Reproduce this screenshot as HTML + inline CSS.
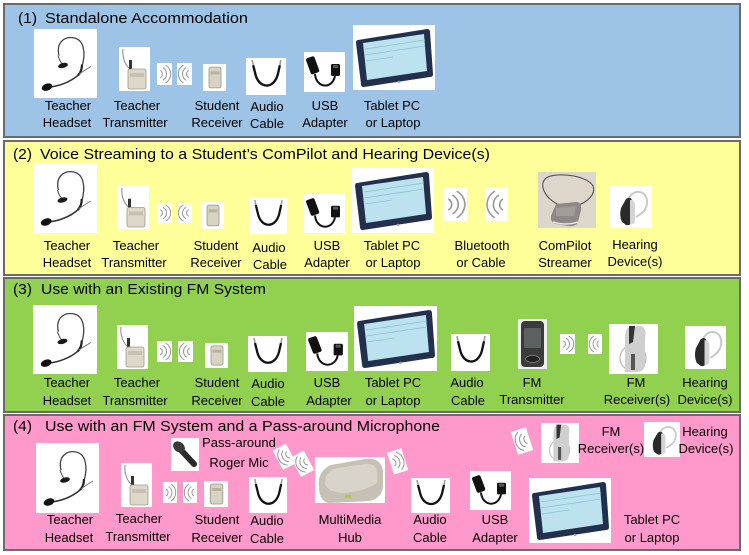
<!DOCTYPE html>
<html><head><meta charset="utf-8"><style>
html,body{margin:0;padding:0;background:#fff;}
svg{display:block;}
text{font-family:"Liberation Sans",sans-serif;fill:#000;}
.l{font-size:13px;text-anchor:middle;}
.t{font-size:15px;}
</style></head><body>
<svg width="749" height="555" viewBox="0 0 749 555" xmlns="http://www.w3.org/2000/svg">
<defs>
<symbol id="headset" viewBox="0 0 63 70" preserveAspectRatio="none">
<rect width="63" height="70" fill="#fff"/>
<path d="M25 27 C22 14 30 7 40 9 C50 11 52 24 48 38" fill="none" stroke="#444" stroke-width="1.3"/>
<path d="M24 27 C26 33 28 36 30 36" stroke="#444" fill="none"/>
<ellipse cx="29" cy="37" rx="5" ry="2.5" fill="#1a1a1a" transform="rotate(-15 29 37)"/>
<path d="M48 36 C48 42 46 45 44 47" stroke="#222" stroke-width="2.2" fill="none"/>
<path d="M45 46 C50 42 54 40 57 38" stroke="#777" fill="none"/>
<path d="M44 47 C36 54 25 58 15 59" stroke="#333" stroke-width="1.5" fill="none"/>
<ellipse cx="13" cy="59" rx="5.5" ry="3.5" fill="#111" transform="rotate(-20 13 59)"/>
</symbol>
<symbol id="trans" viewBox="0 0 31 44" preserveAspectRatio="none">
<rect width="31" height="44" fill="#fff"/>
<path d="M4 2 C3 10 6 18 11 22" stroke="#888" fill="none"/>
<rect x="10" y="13" width="3" height="10" fill="#333"/>
<rect x="9" y="22" width="18" height="20" rx="2" fill="#ddd8c8" stroke="#a09a8c" stroke-width="0.8"/>
<rect x="11" y="26" width="14" height="4" fill="#c6c0b0"/>
</symbol>
<symbol id="recv" viewBox="0 0 23 26" preserveAspectRatio="none">
<rect width="23" height="26" fill="#fff"/>
<rect x="6" y="3" width="12" height="20" rx="2" fill="#d9d3c3" stroke="#9a9486" stroke-width="0.8"/>
<rect x="7.5" y="7" width="9" height="3" fill="#b9b2a0"/>
</symbol>
<symbol id="waveR" viewBox="0 0 14 21" preserveAspectRatio="none">
<rect width="14" height="21" fill="#fff"/>
<g fill="none" stroke="#9a9a9a" stroke-width="1">
<path d="M3 7 A4 4 0 0 1 3 14"/><path d="M5.5 4.5 A7 7 0 0 1 5.5 16.5"/><path d="M8 2 A10 10 0 0 1 8 19"/>
</g>
</symbol>
<symbol id="waveL" viewBox="0 0 14 21" preserveAspectRatio="none">
<rect width="14" height="21" fill="#fff"/>
<g fill="none" stroke="#9a9a9a" stroke-width="1">
<path d="M11 7 A4 4 0 0 0 11 14"/><path d="M8.5 4.5 A7 7 0 0 0 8.5 16.5"/><path d="M6 2 A10 10 0 0 0 6 19"/>
</g>
</symbol>
<symbol id="cable" viewBox="0 0 39 36" preserveAspectRatio="none">
<rect width="39" height="36" fill="#fff"/>
<path d="M7 7 L9 15 C12 30 27 31 31 16 L33 7" fill="none" stroke="#111" stroke-width="2.3"/>
<path d="M6 2 L7 7 M34 2 L33 7" stroke="#999" stroke-width="1.5"/>
</symbol>
<symbol id="usb" viewBox="0 0 41 40" preserveAspectRatio="none">
<rect width="41" height="40" fill="#fff"/>
<rect x="4" y="5" width="9" height="17" rx="2" fill="#111" transform="rotate(-20 8 13)"/>
<path d="M11 22 C12 36 28 38 31 24" stroke="#111" stroke-width="2" fill="none"/>
<rect x="27" y="12" width="9" height="12" rx="1.5" fill="#111"/>
<rect x="29" y="13" width="5" height="3" fill="#555"/>
</symbol>
<symbol id="tablet" viewBox="0 0 82 65" preserveAspectRatio="none">
<rect width="82" height="65" fill="#fff"/>
<path d="M5 15 L74 4 Q77 4 77 7 L80 49 Q80 52 77 52 L11 62 Q8 62 8 59 L3 18 Q3 15 5 15Z" fill="#22304d"/>
<path d="M10 18 L71 9 L74 46 L14 55 Z" fill="#bde2ef"/>
<g stroke="#8cc0d4" stroke-width="0.8"><path d="M12 24 L72 15"/><path d="M12 30 L72 21"/><path d="M13 36 L40 32"/></g>
<circle cx="46" cy="57" r="1.3" fill="#aaa"/>
</symbol>
<symbol id="compilot" viewBox="0 0 58 56" preserveAspectRatio="none">
<rect width="58" height="56" fill="#ddd6cb"/>
<path d="M24 34 C6 28 -1 10 10 5 C22 0 50 4 55 14 C58 22 50 30 38 34" fill="none" stroke="#4a4a4a" stroke-width="1"/>
<path d="M18 32 L38 30 Q44 30 43 38 L40 50 Q38 55 30 54 L18 52 Q12 50 13 44 Z" fill="#8e8886"/>
<path d="M18 36 L38 34 L36 44 L18 44 Z" fill="#a39d9a"/>
<path d="M15 50 Q28 54 40 50" stroke="#e8e4e0" fill="none" stroke-width="1.5"/>
</symbol>
<symbol id="hear" viewBox="0 0 42 42" preserveAspectRatio="none">
<rect width="42" height="42" fill="#fff"/>
<path d="M18 15 C20 4 35 2 37 14 C38 24 31 28 26 31" fill="none" stroke="#c8c8c8" stroke-width="2"/>
<path d="M16 13 Q20 10 22 14 L22 36 Q20 40 16 39 L12 36 Q9 30 11 22 Z" fill="#2a2a2a"/>
<path d="M20 14 Q24 13 25 18 L25 36 Q23 39 20 38 Z" fill="#d4d4d4"/>
</symbol>
<symbol id="fmtx" viewBox="0 0 29 50" preserveAspectRatio="none">
<rect width="29" height="50" fill="#eee"/>
<rect x="3" y="2" width="23" height="46" rx="4" fill="#3b3b3b"/>
<rect x="6" y="9" width="17" height="20" rx="1" fill="#5d6061"/>
<ellipse cx="14.5" cy="40" rx="7" ry="3.5" fill="#222" stroke="#888" stroke-width="0.8"/>
</symbol>
<symbol id="fmrx" viewBox="0 0 49 50" preserveAspectRatio="none">
<rect width="49" height="50" fill="#fff"/>
<circle cx="24" cy="34" r="13" fill="none" stroke="#aaa"/>
<path d="M16 48 L16 14 Q16 4 22 2 L32 2 Q38 4 36 14 L36 42 Q34 48 28 48 Z" fill="#cfcfcf"/>
<path d="M20 2 L26 2 L24 18 L20 20 Z" fill="#333"/>
<path d="M22 30 L26 30 L26 46 L22 46 Z" fill="#555"/>
</symbol>
<symbol id="mic" viewBox="0 0 28 33" preserveAspectRatio="none">
<rect width="28" height="33" fill="#fff"/>
<path d="M10 12 L23 26" stroke="#2a2a2a" stroke-width="6" stroke-linecap="round"/>
<ellipse cx="8" cy="9" rx="6.5" ry="5" fill="#3a3a3a" transform="rotate(40 8 9)"/>
</symbol>
<symbol id="hub" viewBox="0 0 70 46" preserveAspectRatio="none">
<rect width="70" height="46" fill="#fff"/>
<path d="M4 30 Q2 14 16 8 L50 2 Q66 0 68 14 L68 30 Q66 42 54 44 L14 46 Q4 44 4 30Z" fill="#c6c1b4"/>
<path d="M10 26 Q10 14 22 11 L50 7 Q62 6 62 16 L62 26 Q50 34 30 36 Q12 36 10 26Z" fill="#d8d4c9"/>
<rect x="30" y="38" width="6" height="3" fill="#b5c83a"/>
</symbol>
</defs>

<!-- Panel 1 -->
<rect x="4" y="4" width="736" height="133" fill="#9dc3e6" stroke="#6b6b6b" stroke-width="2"/>
<text class="t" x="18" y="23" textLength="19" lengthAdjust="spacingAndGlyphs">(1)</text>
<text class="t" x="45" y="23" textLength="203" lengthAdjust="spacingAndGlyphs">Standalone Accommodation</text>
<use href="#headset" x="34" y="29" width="63" height="69"/>
<use href="#trans" x="119" y="47" width="31" height="44"/>
<use href="#waveR" x="157" y="63" width="15" height="22"/>
<use href="#waveL" x="177" y="63" width="15" height="22"/>
<use href="#recv" x="203" y="64" width="23" height="27"/>
<use href="#cable" x="246" y="58" width="40" height="37"/>
<use href="#usb" x="304" y="52" width="41" height="40"/>
<use href="#tablet" x="353" y="25" width="82" height="65"/>
<text class="l" x="68" y="110">Teacher</text><text class="l" x="67" y="127">Headset</text>
<text class="l" x="137" y="110">Teacher</text><text class="l" x="135" y="127">Transmitter</text>
<text class="l" x="217" y="110">Student</text><text class="l" x="217" y="127">Receiver</text>
<text class="l" x="267" y="111">Audio</text><text class="l" x="267" y="128">Cable</text>
<text class="l" x="325" y="110">USB</text><text class="l" x="325" y="127">Adapter</text>
<text class="l" x="392" y="110">Tablet PC</text><text class="l" x="393" y="127">or Laptop</text>

<!-- Panel 2 -->
<rect x="4" y="141" width="736" height="134" fill="#ffff99" stroke="#6b6b6b" stroke-width="2"/>
<text class="t" x="13" y="159" textLength="19" lengthAdjust="spacingAndGlyphs">(2)</text>
<text class="t" x="40" y="159" textLength="450" lengthAdjust="spacingAndGlyphs">Voice Streaming to a Student’s ComPilot and Hearing Device(s)</text>
<use href="#headset" x="33" y="163" width="64" height="70"/>
<use href="#trans" x="118" y="186" width="31" height="43"/>
<use href="#waveR" x="157" y="203" width="15" height="20"/>
<use href="#waveL" x="177" y="203" width="15" height="20"/>
<use href="#recv" x="201" y="202" width="23" height="27"/>
<use href="#cable" x="249" y="198" width="38" height="36"/>
<use href="#usb" x="304" y="194" width="41" height="39"/>
<use href="#tablet" x="352" y="168" width="82" height="65"/>
<use href="#waveR" x="443" y="188" width="24" height="33"/>
<use href="#waveL" x="485" y="188" width="23" height="33"/>
<use href="#compilot" x="538" y="172" width="58" height="56"/>
<use href="#hear" x="610" y="186" width="42" height="42"/>
<text class="l" x="67" y="250">Teacher</text><text class="l" x="67" y="267">Headset</text>
<text class="l" x="136" y="250">Teacher</text><text class="l" x="134" y="267">Transmitter</text>
<text class="l" x="216" y="250">Student</text><text class="l" x="216" y="267">Receiver</text>
<text class="l" x="269" y="252">Audio</text><text class="l" x="270" y="269">Cable</text>
<text class="l" x="327" y="250">USB</text><text class="l" x="327" y="267">Adapter</text>
<text class="l" x="392" y="250">Tablet PC</text><text class="l" x="393" y="267">or Laptop</text>
<text class="l" x="482" y="250">Bluetooth</text><text class="l" x="481" y="267">or Cable</text>
<text class="l" x="565" y="250">ComPilot</text><text class="l" x="565" y="267">Streamer</text>
<text class="l" x="635" y="249">Hearing</text><text class="l" x="635" y="266">Device(s)</text>

<!-- Panel 3 -->
<rect x="4" y="278" width="736" height="134" fill="#92d050" stroke="#6b6b6b" stroke-width="2"/>
<text class="t" x="13" y="294" textLength="19" lengthAdjust="spacingAndGlyphs">(3)</text>
<text class="t" x="41" y="294" textLength="225" lengthAdjust="spacingAndGlyphs">Use with an Existing FM System</text>
<use href="#headset" x="33" y="305" width="64" height="69"/>
<use href="#trans" x="117" y="325" width="31" height="44"/>
<use href="#waveR" x="157" y="341" width="15" height="21"/>
<use href="#waveL" x="178" y="341" width="15" height="21"/>
<use href="#recv" x="205" y="343" width="23" height="25"/>
<use href="#cable" x="248" y="336" width="39" height="36"/>
<use href="#usb" x="306" y="332" width="42" height="39"/>
<use href="#tablet" x="354" y="306" width="83" height="65"/>
<use href="#cable" x="451" y="334" width="39" height="37"/>
<use href="#fmtx" x="518" y="319" width="29" height="50"/>
<use href="#waveR" x="560" y="334" width="15" height="20"/>
<use href="#waveL" x="588" y="334" width="14" height="20"/>
<use href="#fmrx" x="609" y="324" width="49" height="50"/>
<use href="#hear" x="685" y="326" width="41" height="43"/>
<text class="l" x="67" y="387">Teacher</text><text class="l" x="67" y="405">Headset</text>
<text class="l" x="137" y="387">Teacher</text><text class="l" x="135" y="405">Transmitter</text>
<text class="l" x="217" y="387">Student</text><text class="l" x="217" y="405">Receiver</text>
<text class="l" x="268" y="388">Audio</text><text class="l" x="268" y="406">Cable</text>
<text class="l" x="327" y="387">USB</text><text class="l" x="329" y="405">Adapter</text>
<text class="l" x="393" y="387">Tablet PC</text><text class="l" x="393" y="405">or Laptop</text>
<text class="l" x="467" y="387">Audio</text><text class="l" x="468" y="405">Cable</text>
<text class="l" x="532" y="387">FM</text><text class="l" x="532" y="404">Transmitter</text>
<text class="l" x="636" y="387">FM</text><text class="l" x="637" y="404">Receiver(s)</text>
<text class="l" x="705" y="387">Hearing</text><text class="l" x="705" y="404">Device(s)</text>

<!-- Panel 4 -->
<rect x="4" y="415" width="736" height="135" fill="#ff99cc" stroke="#6b6b6b" stroke-width="2"/>
<text class="t" x="13" y="431" textLength="19" lengthAdjust="spacingAndGlyphs">(4)</text>
<text class="t" x="45" y="431" textLength="395" lengthAdjust="spacingAndGlyphs">Use with an FM System and a Pass-around Microphone</text>
<use href="#headset" x="36" y="443" width="63" height="70"/>
<use href="#trans" x="121" y="463" width="31" height="44"/>
<use href="#waveR" x="163" y="482" width="14" height="21"/>
<use href="#waveL" x="183" y="482" width="14" height="21"/>
<use href="#recv" x="204" y="481" width="24" height="26"/>
<use href="#cable" x="249" y="477" width="38" height="36"/>
<use href="#mic" x="171" y="438" width="28" height="33"/>
<g transform="rotate(-28 284 457)"><use href="#waveL" x="277" y="446" width="15" height="22"/></g>
<g transform="rotate(-28 302 464)"><use href="#waveL" x="295" y="453" width="15" height="22"/></g>
<use href="#hub" x="315" y="457" width="70" height="46"/>
<g transform="rotate(-18 397 461)"><use href="#waveR" x="390" y="450" width="15" height="23"/></g>
<use href="#cable" x="411" y="478" width="39" height="35"/>
<use href="#usb" x="470" y="471" width="41" height="39"/>
<use href="#tablet" x="529" y="478" width="82" height="65"/>
<g transform="rotate(-18 522 441)"><use href="#waveL" x="514" y="429" width="16" height="24"/></g>
<use href="#fmrx" x="541" y="423" width="38" height="40"/>
<use href="#hear" x="644" y="422" width="36" height="35"/>
<text class="l" x="70" y="524">Teacher</text><text class="l" x="69" y="542">Headset</text>
<text class="l" x="139" y="523">Teacher</text><text class="l" x="138" y="541">Transmitter</text>
<text class="l" x="217" y="524">Student</text><text class="l" x="217" y="542">Receiver</text>
<text class="l" x="267" y="525">Audio</text><text class="l" x="267" y="543">Cable</text>
<text class="l" x="239" y="447">Pass-around</text><text class="l" x="239" y="467">Roger Mic</text>
<text class="l" x="350" y="524">MultiMedia</text><text class="l" x="350" y="542">Hub</text>
<text class="l" x="430" y="524">Audio</text><text class="l" x="430" y="542">Cable</text>
<text class="l" x="495" y="524">USB</text><text class="l" x="495" y="542">Adapter</text>
<text class="l" x="652" y="524">Tablet PC</text><text class="l" x="652" y="542">or Laptop</text>
<text class="l" x="611" y="436">FM</text><text class="l" x="611" y="453">Receiver(s)</text>
<text class="l" x="705" y="436">Hearing</text><text class="l" x="706" y="453">Device(s)</text>
</svg>
</body></html>
